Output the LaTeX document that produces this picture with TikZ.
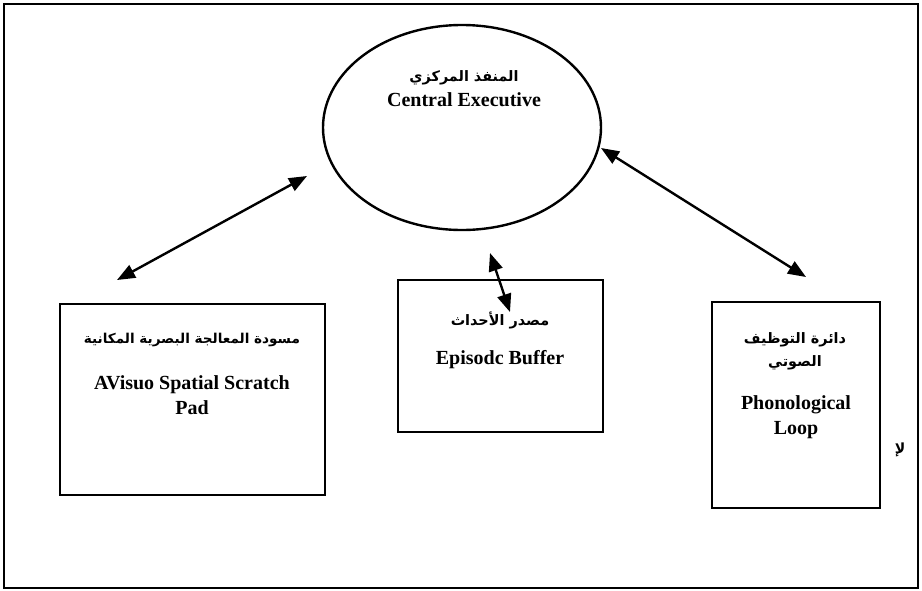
\documentclass[tikz,border=0pt]{standalone}
\usepackage{fontspec}
\setmainfont{Liberation Serif}
\newfontfamily\arabicfont[Script=Arabic]{DejaVu Sans}
\TeXXeTstate=1
\usetikzlibrary{arrows.meta,positioning,shapes.geometric}

\newcommand{\artxt}[1]{\beginR #1\endR}

\begin{document}
\begin{tikzpicture}[x=0.5pt,y=-0.5pt,>={Triangle[length=9pt,width=7pt]},
  part/.style={draw,line width=1.4pt,inner sep=0pt},
  en/.style={font=\fontsize{10}{12.5}\selectfont\bfseries,align=center,inner sep=0pt},
  ar/.style={font=\arabicfont\fontsize{7.2}{11.5}\selectfont\bfseries,align=center,inner sep=0pt},
  link/.style={<->,line width=1.2pt}]
  \useasboundingbox (0,0) rectangle (922,590);
  \draw[line width=1pt] (4,4) rectangle (918,588);

  % central executive
  \node[ellipse,draw,line width=1.2pt,minimum width=139pt,minimum height=102.5pt] (ce) at (462,127.5) {};
  \node[ar] (ceAr) at (464,78) {\artxt{المنفذ المركزي}};
  \node[en] (ceEn) at (464,100) {Central Executive};

  % the three slave systems
  \node[part,minimum width=132.5pt,minimum height=95.5pt] (vs) at (192.5,399.5) {};
  \node[part,minimum width=102.5pt,minimum height=76pt] (eb) at (500.5,356) {};
  \node[part,minimum width=84pt,minimum height=103pt] (pl) at (796,405) {};

  \node[ar,font=\arabicfont\fontsize{6.8}{11.5}\selectfont\bfseries] (vsAr) at (192,340) {\artxt{مسودة المعالجة البصرية المكانية}};
  \node[en] (vsEn) at (192,395.5) {AVisuo Spatial Scratch\\Pad};
  \node[ar] (ebAr) at (500,320) {\artxt{مصدر الأحداث}};
  \node[en] (ebEn) at (500,360) {Episodc Buffer};
  \node[ar] (plAr) at (795,351.5) {\artxt{دائرة التوظيف}\\\artxt{الصوتي}};
  \node[en] (plEn) at (796,417.5) {Phonological\\Loop};
  \node[ar,font=\arabicfont\fontsize{7}{8}\selectfont\bfseries] (mark) at (900,450) {\artxt{لإ}};

  % arrow ends
  \coordinate (ceL) at (307,176);
  \coordinate (vsT) at (117,280);
  \coordinate (ceR) at (601,148);
  \coordinate (plT) at (806,277);
  \coordinate (ceB) at (490,253);
  \coordinate (ebT) at (510,312);

  \draw[link] (vsT) -- (ceL);
  \draw[link] (ceR) -- (plT);
  \draw[link] (ceB) -- (ebT);
\end{tikzpicture}
\end{document}
